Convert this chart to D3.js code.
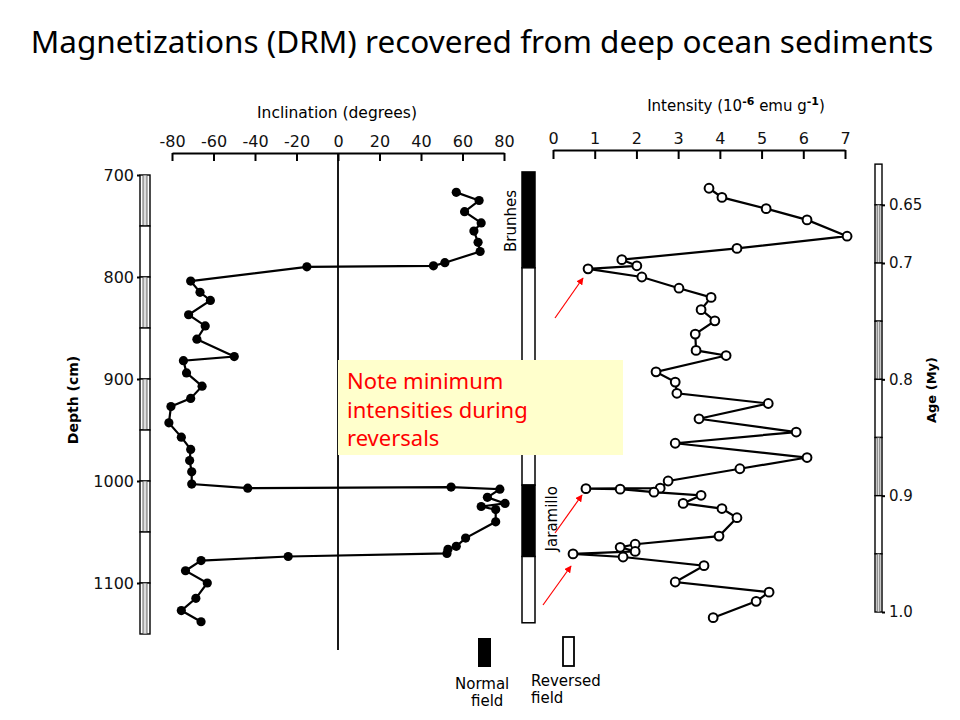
<!DOCTYPE html>
<html>
<head>
<meta charset="utf-8">
<script src="https://cdn.jsdelivr.net/npm/d3@7"></script>
<style>
  body { margin: 0; background: #fff; }
  svg text { font-family: "DejaVu Sans", sans-serif; }
</style>
</head>
<body>
<div id="chart"></div>
<script>
// inclination (degrees) vs depth (cm)
const incDepth = [717, 725, 736, 747, 755, 766, 775, 786, 789, 790,
  804, 815, 823, 837, 848, 861, 878, 882, 894, 907, 919, 927, 943, 957, 969, 980, 991, 1003,
  1007, 1006, 1008, 1016, 1022, 1025, 1028, 1040, 1056, 1064, 1067, 1071,
  1074, 1078, 1088, 1100, 1115, 1127, 1138];
const incValue = [57, 68, 61, 69, 65.5, 67.5, 68.5, 51.5, 46, -15,
  -71, -66.5, -61.5, -72, -64, -68, -50, -74.5, -73, -65.5, -71, -80.5, -81.5, -75.5, -71, -71.5, -70.5, -70.5,
  -43.5, 54.5, 78, 72, 80.5, 69, 76, 76, 61.5, 57, 53, 52.5,
  -24, -66, -73.5, -63, -68.5, -75.5, -66];

// intensity (10^-6 emu/g) vs depth (cm)
const intDepth = [713, 722, 733, 744, 760, 772, 783, 789, 792, 800, 811, 820, 832, 843, 856, 872, 877,
  893, 903, 914, 924, 939, 952, 963, 977, 988, 1000, 1007, 1007.5, 1008, 1011, 1014, 1022, 1027, 1036,
  1054, 1062, 1065, 1069, 1071.5, 1074.5, 1083, 1099, 1109, 1118, 1134];
const intValue = [3.74, 4.05, 5.11, 6.09, 7.05, 4.41, 1.65, 2.01, 0.84, 2.13, 3.02, 3.79, 3.55, 3.88, 3.41, 3.43, 4.15,
  2.47, 2.93, 2.97, 5.16, 3.5, 5.83, 2.93, 6.09, 4.48, 2.76, 2.57, 0.79, 1.61, 2.42, 3.55, 3.12, 4.05, 4.41,
  3.98, 1.97, 1.61, 1.97, 0.48, 1.68, 3.62, 2.93, 5.18, 4.87, 3.84];

const incTicks = [-80, -60, -40, -20, 0, 20, 40, 60, 80];
const intTicks = [0, 1, 2, 3, 4, 5, 6, 7];
const depthTicks = [700, 800, 900, 1000, 1100];
const ageTicks = [0.65, 0.7, 0.8, 0.9, 1.0];
const ageLabels = ["0.65", "0.7", "0.8", "0.9", "1.0"];

// scale-bar strips (segment boundaries)
const depthStrip = [700, 750, 800, 850, 900, 950, 1000, 1050, 1100, 1150];
const ageStrip = [0.615, 0.65, 0.7, 0.75, 0.8, 0.85, 0.9, 0.95, 1.0];

// polarity column (depth intervals)
const polarity = [
  { from: 697, to: 791, normal: true },
  { from: 791, to: 1004, normal: false },
  { from: 1004, to: 1074, normal: true },
  { from: 1074, to: 1139, normal: false }
];

const noteLines = ["Note minimum", "intensities during", "reversals"];

const width = 960, height = 720;
const svg = d3.select("#chart").append("svg")
  .attr("width", width).attr("height", height);

svg.append("text")
  .attr("x", 482).attr("y", 53)
  .attr("text-anchor", "middle")
  .style("font-family", "'Noto Sans', sans-serif")
  .style("font-size", "31.5px")
  .attr("fill", "#000")
  .text("Magnetizations (DRM) recovered from deep ocean sediments");

const y = d3.scaleLinear().domain([700, 1100]).range([175, 583]);
const xInc = d3.scaleLinear().domain([-80, 80]).range([172, 504]);
const xInt = d3.scaleLinear().domain([0, 7]).range([553, 845]);
const yAge = d3.scaleLinear().domain([0.7, 1.0]).range([263, 612]);

const axisStyle = (g, size) => {
  g.selectAll("path.domain").attr("stroke", "#000").attr("stroke-width", 2);
  g.selectAll(".tick line").attr("stroke", "#000").attr("stroke-width", 2);
  g.selectAll(".tick text").attr("fill", "#111").style("font-size", size + "px")
    .style("font-family", "'DejaVu Sans', sans-serif");
};

// inclination axis
const gInc = svg.append("g").attr("transform", "translate(0,153)")
  .call(d3.axisTop(xInc).tickValues(incTicks).tickSizeInner(-8).tickSizeOuter(0).tickPadding(6)
    .tickFormat(d => String(d)));
axisStyle(gInc, 16);
svg.append("text").attr("x", 337).attr("y", 118).attr("text-anchor", "middle")
  .style("font-size", "15.5px").text("Inclination (degrees)");

// zero line
svg.append("line").attr("x1", xInc(0)).attr("x2", xInc(0)).attr("y1", 153).attr("y2", 650)
  .attr("stroke", "#000").attr("stroke-width", 1.8);

// intensity axis
const gInt = svg.append("g").attr("transform", "translate(0,150)")
  .call(d3.axisTop(xInt).tickValues(intTicks).tickSizeInner(-9).tickSizeOuter(0).tickPadding(6)
    .tickFormat(d3.format("d")));
axisStyle(gInt, 16);
const intTitle = svg.append("text").attr("x", 736).attr("y", 111).attr("text-anchor", "middle")
  .style("font-size", "15px");
intTitle.append("tspan").text("Intensity (10");
intTitle.append("tspan").attr("dy", -6).style("font-size", "11px").style("font-weight", "bold").text("-6");
intTitle.append("tspan").attr("dy", 6).text(" emu g");
intTitle.append("tspan").attr("dy", -6).style("font-size", "11px").style("font-weight", "bold").text("-1");
intTitle.append("tspan").attr("dy", 6).text(")");

// scale-bar strips
function drawStrip(g, x0, x1, bounds, scale, hatchFirst) {
  for (let i = 0; i < bounds.length - 1; i++) {
    const y0 = scale(bounds[i]), y1 = scale(bounds[i + 1]);
    g.append("rect").attr("x", x0).attr("y", y0).attr("width", x1 - x0).attr("height", y1 - y0)
      .attr("fill", "#fff").attr("stroke", "#000").attr("stroke-width", 1.4);
    if ((i % 2 === 0) === hatchFirst) {
      g.append("rect").attr("x", x0 + (x1 - x0) * 0.3).attr("y", y0)
        .attr("width", (x1 - x0) * 0.4).attr("height", y1 - y0)
        .attr("fill", "#ddd").attr("stroke", "#444").attr("stroke-width", 0.8);
    }
  }
}
drawStrip(svg.append("g"), 140, 150, depthStrip, y, true);
const gDepth = svg.append("g").attr("transform", "translate(140,0)")
  .call(d3.axisLeft(y).tickValues(depthTicks).tickSize(3).tickPadding(3).tickFormat(d3.format("d")));
gDepth.select("path.domain").remove();
axisStyle(gDepth, 16);
svg.append("text").attr("transform", "translate(78,400) rotate(-90)").attr("text-anchor", "middle")
  .style("font-size", "14px").style("font-weight", "bold").text("Depth (cm)");

drawStrip(svg.append("g"), 875, 882, ageStrip, yAge, false);
const gAge = svg.append("g").attr("transform", "translate(882,0)")
  .call(d3.axisRight(yAge).tickValues(ageTicks).tickSize(3).tickPadding(4)
    .tickFormat((d, i) => ageLabels[i]));
gAge.select("path.domain").remove();
axisStyle(gAge, 15);
svg.append("text").attr("transform", "translate(936,390) rotate(-90)").attr("text-anchor", "middle")
  .style("font-size", "13px").style("font-weight", "bold").text("Age (My)");

// polarity column
const polG = svg.append("g");
polarity.forEach(p => {
  polG.append("rect").attr("x", 522).attr("y", y(p.from)).attr("width", 13)
    .attr("height", y(p.to) - y(p.from))
    .attr("fill", p.normal ? "#000" : "#fff").attr("stroke", "#000").attr("stroke-width", 1.5);
});
polG.append("text").attr("transform", `translate(516,${y(745)}) rotate(-90)`)
  .attr("text-anchor", "middle").style("font-size", "15px").text("Brunhes");
polG.append("text").attr("transform", `translate(557,${y(1037)}) rotate(-90)`)
  .attr("text-anchor", "middle").style("font-size", "15px").text("Jaramillo");

// inclination series
const incData = incDepth.map((d, i) => ({ d, v: incValue[i] }));
svg.append("path").datum(incData)
  .attr("d", d3.line().x(p => xInc(p.v)).y(p => y(p.d)))
  .attr("fill", "none").attr("stroke", "#000").attr("stroke-width", 2.2);
svg.append("g").selectAll("circle").data(incData).join("circle")
  .attr("cx", p => xInc(p.v)).attr("cy", p => y(p.d)).attr("r", 4.6).attr("fill", "#000");

// intensity series
const intData = intDepth.map((d, i) => ({ d, v: intValue[i] }));
svg.append("path").datum(intData)
  .attr("d", d3.line().x(p => xInt(p.v)).y(p => y(p.d)))
  .attr("fill", "none").attr("stroke", "#000").attr("stroke-width", 2.2);
svg.append("g").selectAll("circle").data(intData).join("circle")
  .attr("cx", p => xInt(p.v)).attr("cy", p => y(p.d)).attr("r", 4.4)
  .attr("fill", "#fff").attr("stroke", "#000").attr("stroke-width", 2);

// legend
svg.append("rect").attr("x", 478).attr("y", 638).attr("width", 13).attr("height", 29).attr("fill", "#000");
svg.append("rect").attr("x", 563).attr("y", 637).attr("width", 11).attr("height", 29)
  .attr("fill", "#fff").attr("stroke", "#000").attr("stroke-width", 1.8);
[["Normal", 455, 689], ["field", 471, 706], ["Reversed", 531, 686], ["field", 531, 703]].forEach(t => {
  svg.append("text").attr("x", t[1]).attr("y", t[2]).style("font-size", "15px").text(t[0]);
});

// note box
svg.append("rect").attr("x", 338).attr("y", 360).attr("width", 285).attr("height", 95).attr("fill", "#ffffcc");
noteLines.forEach((t, i) => {
  svg.append("text").attr("x", 347).attr("y", 389 + i * 28.5)
    .style("font-family", "'Noto Sans', sans-serif").style("font-size", "22px")
    .attr("fill", "#ff0000").text(t);
});

// red arrows
svg.append("defs").append("marker").attr("id", "ah").attr("viewBox", "0 0 10 10")
  .attr("refX", 9).attr("refY", 5).attr("markerWidth", 6).attr("markerHeight", 6).attr("orient", "auto")
  .append("path").attr("d", "M0,0 L10,5 L0,10 z").attr("fill", "#ff0000");
[[555, 318, 583, 278], [555, 533, 582, 495], [543, 605, 571, 566]].forEach(a => {
  svg.append("line").attr("x1", a[0]).attr("y1", a[1]).attr("x2", a[2]).attr("y2", a[3])
    .attr("stroke", "#ff0000").attr("stroke-width", 1.2).attr("marker-end", "url(#ah)");
});
</script>
</body>
</html>
